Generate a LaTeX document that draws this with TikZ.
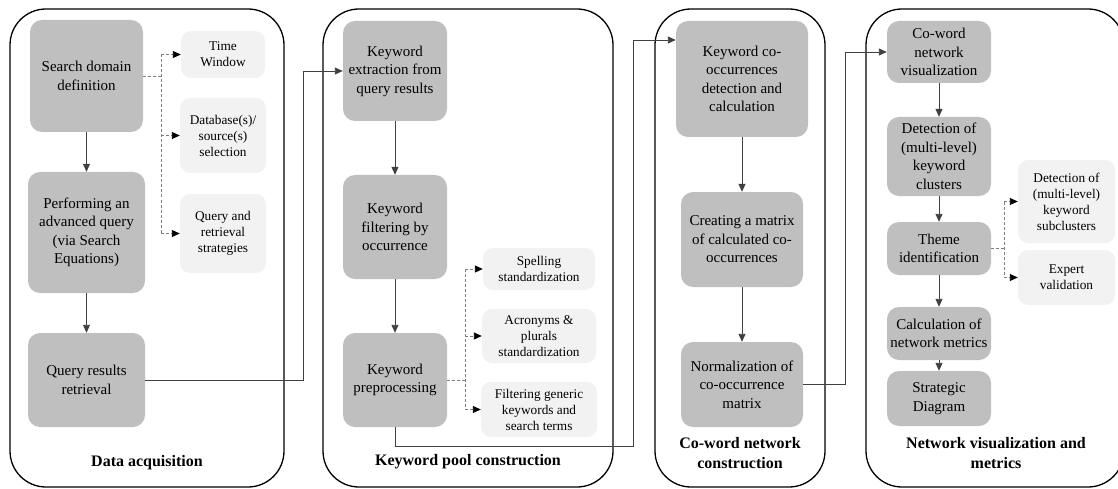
\documentclass[tikz,border=0pt]{standalone}
\usepackage{fontspec}
\setmainfont{Liberation Serif}
\usetikzlibrary{arrows.meta,calc}

\definecolor{stepgray}{HTML}{BFBFBF}
\definecolor{subgray}{HTML}{F2F2F2}
\definecolor{linkgray}{HTML}{404040}
\definecolor{dashgray}{HTML}{808080}

\tikzset{
  panel/.style={draw=black, line width=1.3pt, rounded corners=36pt},
  stepbox/.style={rectangle, rounded corners=12pt, fill=stepgray, draw=none,
    align=center, inner sep=0pt, font=\fontsize{15}{18.5}\selectfont},
  subbox/.style={rectangle, rounded corners=10pt, fill=subgray, draw=none,
    align=center, inner sep=0pt, font=\fontsize{13.3}{16}\selectfont},
  dims/.style 2 args={minimum width=#1pt, minimum height=#2pt},
  paneltitle/.style={align=center, font=\bfseries\fontsize{16}{20}\selectfont},
  flow/.style={draw=linkgray, line width=0.9pt, -{Triangle[length=8pt,width=7pt]}},
  link/.style={draw=linkgray, line width=0.9pt},
  sidelink/.style={draw=dashgray, line width=0.9pt, dash pattern=on 3pt off 2pt},
  sidearrow/.style={sidelink, -{Triangle[length=8pt,width=7pt,fill=black,color=black]}},
}

\begin{document}
\begin{tikzpicture}[x=1pt,y=-1pt]
\useasboundingbox (0,0) rectangle (1118,489);

% ---------- panels ----------
\draw[panel] (10,9) rectangle (284,487);
\draw[panel] (323,9) rectangle (613,487);
\draw[panel] (655,9) rectangle (825,487);
\draw[panel] (866,9) rectangle (1124,487);

% ---------- data acquisition ----------
\node[stepbox, dims={113}{112}] (sdd)  at (86.5,76)    {Search domain\\definition};
\node[stepbox, dims={117}{121}] (perf) at (86.5,232.5) {Performing an\\advanced query\\(via Search\\Equations)};
\node[stepbox, dims={117}{94}]  (qrr)  at (86.5,380)   {Query results\\retrieval};
\node[subbox, dims={84}{47}] (tw)  at (223,54.5)  {Time\\Window};
\node[subbox, dims={86}{75}] (db)  at (223,135.5) {Database(s)/\\source(s)\\selection};
\node[subbox, dims={86}{79}] (qrs) at (223,233.5) {Query and\\retrieval\\strategies};
\node[paneltitle] (t1) at (147,463) {Data acquisition};

\draw[flow] (sdd) -- (perf);
\draw[flow] (perf) -- (qrr);

\coordinate (d1) at ($(sdd.east)+(18,0)$);
\draw[sidelink] (sdd.east) -- (d1);
\draw[sidelink] (d1 |- tw.west) -- (d1 |- qrs.west);
\foreach \t in {tw,db,qrs} \draw[sidearrow] (d1 |- \t.west) -- (\t.west);

% ---------- keyword pool construction ----------
\node[stepbox, dims={104}{100}] (kext) at (395,71)  {Keyword\\extraction from\\query results};
\node[stepbox, dims={104}{104}] (kfil) at (395,227) {Keyword\\filtering by\\occurrence};
\node[stepbox, dims={104}{94}]  (kpre) at (395,380) {Keyword\\preprocessing};
\node[subbox, dims={112}{42}] (spell) at (539,269)   {Spelling\\standardization};
\node[subbox, dims={114}{54}] (acro)  at (539,336)   {Acronyms \&\\plurals\\standardization};
\node[subbox, dims={116}{55}] (filt)  at (539,409.5) {Filtering generic\\keywords and\\search terms};
\node[paneltitle] (t2) at (468,462) {Keyword pool construction};

\draw[flow] (kext) -- (kfil);
\draw[flow] (kfil) -- (kpre);

\coordinate (d2) at ($(kpre.east)+(18,0)$);
\draw[sidelink] (kpre.east) -- (d2);
\draw[sidelink] (d2 |- spell.west) -- (d2 |- filt.west);
\foreach \t in {spell,acro,filt} \draw[sidearrow] (d2 |- \t.west) -- (\t.west);

% ---------- co-word network construction ----------
\node[stepbox, dims={132}{116}] (kco)  at (742,79)    {Keyword co-\\occurrences\\detection and\\calculation};
\node[stepbox, dims={122}{95}]  (cmat) at (742,239.5) {Creating a matrix\\of calculated co-\\occurrences};
\node[stepbox, dims={122}{85}]  (norm) at (742,384.5) {Normalization of\\co-occurrence\\matrix};
\node[paneltitle] (t3) at (740,453) {Co-word network\\construction};

\draw[flow] (kco) -- (cmat);
\draw[flow] (cmat) -- (norm);

% ---------- network visualization and metrics ----------
\node[stepbox, dims={104}{62}] (cwv)   at (939,52)    {Co-word\\network\\visualization};
\node[stepbox, dims={104}{79}] (det)   at (939,156.5) {Detection of\\(multi-level)\\keyword\\clusters};
\node[stepbox, dims={104}{53}] (theme) at (939,248.5) {Theme\\identification};
\node[stepbox, dims={104}{53}] (calc)  at (939,333.5) {Calculation of\\network metrics};
\node[stepbox, dims={104}{55}] (strat) at (939,398.5) {Strategic\\Diagram};
\node[subbox, dims={97}{83}] (sub) at (1066.5,201.5) {Detection of\\(multi-level)\\keyword\\subclusters};
\node[subbox, dims={97}{55}] (exp) at (1066.5,277.5) {Expert\\validation};
\node[paneltitle] (t4) at (996,453) {Network visualization and\\metrics};

\draw[flow] (cwv) -- (det);
\draw[flow] (det) -- (theme);
\draw[flow] (theme) -- (calc);
\draw[flow] (calc) -- (strat);

\coordinate (d4) at ($(theme.east)+(13,0)$);
\draw[sidelink] (theme.east) -- (d4);
\draw[sidelink] (d4 |- sub.west) -- (d4 |- exp.west);
\foreach \t in {sub,exp} \draw[sidearrow] (d4 |- \t.west) -- (\t.west);

% ---------- links between stages ----------
\coordinate (r1) at (303,380);
\draw[flow] (qrr.east) -- (r1) |- (kext.west);

\coordinate (r2) at (633,446);
\coordinate (r2b) at (633,40);
\draw[flow] (kpre.south) |- (r2) -- (r2b) -- (kco.west |- r2b);

\coordinate (r3) at (845,52);
\draw[flow] (norm.east) -| (r3) -- (cwv.west);
\end{tikzpicture}
\end{document}
